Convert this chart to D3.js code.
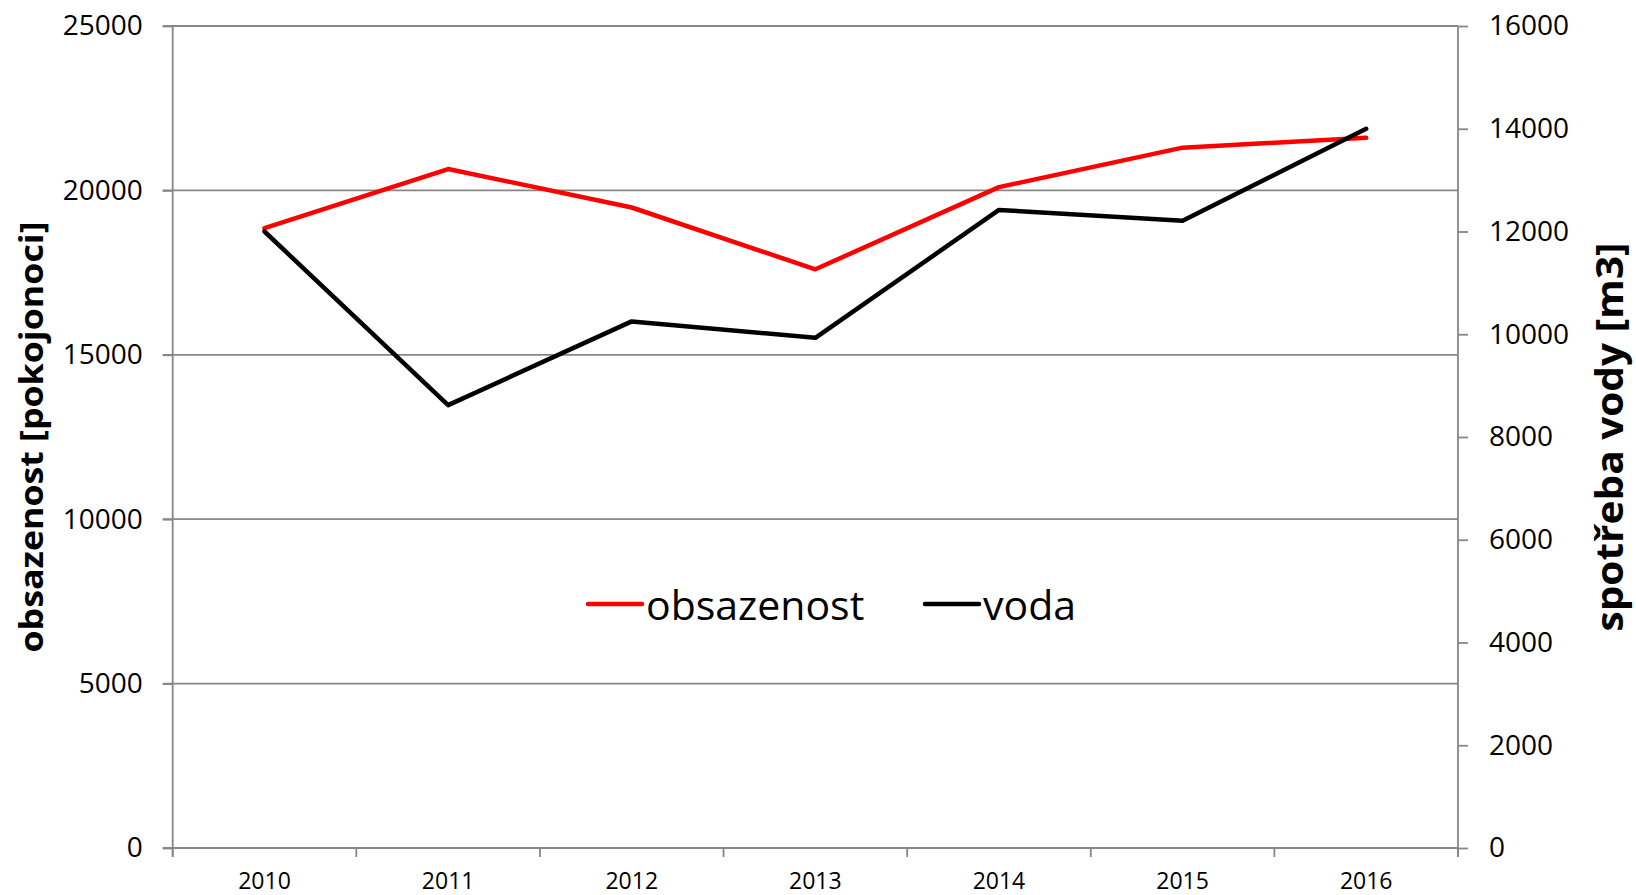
<!DOCTYPE html>
<html>
<head>
<meta charset="utf-8">
<script src="https://cdn.jsdelivr.net/npm/d3@7"></script>
<style>
	body { margin: 0; background: #fff; }
	svg { display: block; font-family: "Open Sans", sans-serif; }
</style>
</head>
<body>
<svg id="chart" width="1636" height="895"></svg>
<script>
// DATA
const years = ['2010', '2011', '2012', '2013', '2014', '2015', '2016'];
const obsazenost = [18850, 20650, 19480, 17600, 20100, 21300, 21600];
const voda = [12000, 8620, 10250, 9930, 12420, 12210, 14000];
const leftTicks = [0, 5000, 10000, 15000, 20000, 25000];
const rightTicks = [0, 2000, 4000, 6000, 8000, 10000, 12000, 14000, 16000];

const series = [
	{ name: 'obsazenost', values: obsazenost, color: '#ff0000', axis: 'left' },
	{ name: 'voda', values: voda, color: '#000000', axis: 'right' }
];

var svg = d3.select('#chart');

// plot area (window.top is taken, so plotTop)
var plotLeft = 172.7, plotRight = 1458, plotTop = 26, plotBottom = 848,
	gray = '#878787';

var x = d3.scaleBand().domain(years).range([plotLeft, plotRight]).padding(0);
var yLeft = d3.scaleLinear().domain([0, 25000]).range([plotBottom, plotTop]);
var yRight = d3.scaleLinear().domain([0, 16000]).range([plotBottom, plotTop]);

// GRID
svg.append('g')
	.selectAll('line')
	.data(leftTicks)
	.enter().append('line')
	.attr('x1', plotLeft - 10)
	.attr('x2', plotRight)
	.attr('y1', d => yLeft(d))
	.attr('y2', d => yLeft(d))
	.attr('stroke', gray)
	.attr('stroke-width', 1.8);

// AXES
var axisLeft = svg.append('g')
	.attr('transform', `translate(${plotLeft},0)`)
	.call(d3.axisLeft(yLeft).tickValues(leftTicks).tickSize(10).tickPadding(20).tickFormat(d3.format('d')));

var axisRight = svg.append('g')
	.attr('transform', `translate(${plotRight},0)`)
	.call(d3.axisRight(yRight).tickValues(rightTicks).tickSize(10).tickPadding(21).tickFormat(d3.format('d')));

var axisBottom = svg.append('g')
	.attr('transform', `translate(0,${plotBottom})`)
	.call(d3.axisBottom(x).tickSize(0).tickPadding(25));

// tick marks between the categories
axisBottom.selectAll('.boundary')
	.data(d3.range(years.length + 1))
	.enter().append('line')
	.attr('class', 'boundary')
	.attr('x1', i => plotLeft + i * x.step())
	.attr('x2', i => plotLeft + i * x.step())
	.attr('y1', 0)
	.attr('y2', 9)
	.attr('stroke', gray)
	.attr('stroke-width', 1.8);

[axisLeft, axisRight, axisBottom].forEach(a => {
	a.select('.domain').attr('stroke', gray).attr('stroke-width', 1.8);
	a.selectAll('.tick line').attr('stroke', gray).attr('stroke-width', 1.8);
	a.selectAll('.tick text').attr('fill', '#000').style('font-family', '"Open Sans", sans-serif');
});
axisLeft.select('.domain').attr('d', `M0,${plotTop}V${plotBottom + 9}`);
axisRight.select('.domain').attr('d', `M0,${plotTop}V${plotBottom + 9}`);
axisBottom.select('.domain').attr('d', `M${plotLeft},0H${plotRight}`);

axisLeft.selectAll('.tick text').style('font-size', '28px');
axisRight.selectAll('.tick text').style('font-size', '28px');
axisBottom.selectAll('.tick text').style('font-size', '23px');

// LINES
series.forEach(s => {
	let y = s.axis == 'left' ? yLeft : yRight;
	let line = d3.line()
		.x((d, i) => x(years[i]) + x.bandwidth() / 2)
		.y(d => y(d));
	svg.append('path')
		.datum(s.values)
		.attr('d', line)
		.attr('fill', 'none')
		.attr('stroke', s.color)
		.attr('stroke-width', 4.5)
		.attr('stroke-linecap', 'round')
		.attr('stroke-linejoin', 'round');
});

// AXIS TITLES
svg.append('text')
	.attr('transform', 'translate(43,437) rotate(-90)')
	.attr('text-anchor', 'middle')
	.style('font-size', '33px')
	.style('font-weight', 'bold')
	.attr('textLength', 431)
	.attr('lengthAdjust', 'spacingAndGlyphs')
	.text('obsazenost [pokojonoci]');

svg.append('text')
	.attr('transform', 'translate(1623,437) rotate(-90)')
	.attr('text-anchor', 'middle')
	.style('font-size', '37px')
	.style('font-weight', 'bold')
	.attr('textLength', 389)
	.attr('lengthAdjust', 'spacingAndGlyphs')
	.text('spotřeba vody [m3]');

// LEGEND
var legendPos = [588, 925];
var legend = svg.append('g')
	.selectAll('g')
	.data(series)
	.enter().append('g')
	.attr('transform', (d, i) => `translate(${legendPos[i]},604)`);

legend.append('line')
	.attr('x1', 0)
	.attr('x2', 54)
	.attr('stroke', d => d.color)
	.attr('stroke-width', 4.5)
	.attr('stroke-linecap', 'round');

legend.append('text')
	.attr('x', 58)
	.attr('y', 16)
	.style('font-size', '41px')
	.text(d => d.name);
</script>
</body>
</html>
